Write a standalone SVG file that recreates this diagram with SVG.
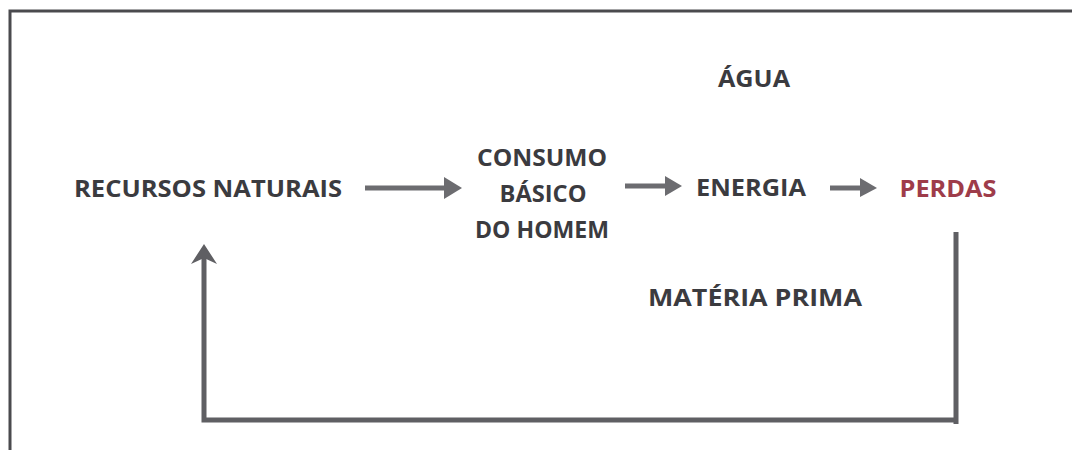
<svg xmlns="http://www.w3.org/2000/svg" width="1072" height="450" viewBox="0 0 1072 450">
<style>
.t{font-family:"Open Sans","Liberation Sans",sans-serif;font-weight:bold;font-size:23px;fill:#3b3b3f;text-anchor:middle;dominant-baseline:central}
.red{fill:#9e3c4a}
.ln{stroke:#5f5f63;stroke-width:5;fill:none}
.ar{stroke:#6c6c70;stroke-width:5;fill:none}
.hd{fill:#6c6c70}
</style>
<rect width="1072" height="450" fill="#ffffff"/>
<g id="frame">
<path d="M10,450 L10,11 L1072,11" stroke="#4a4a4e" stroke-width="3" fill="none"/>
</g>
<g id="recursos"><text class="t" x="208" y="188" textLength="268" lengthAdjust="spacingAndGlyphs">RECURSOS NATURAIS</text></g>
<g id="consumo">
<text class="t" x="542" y="157" textLength="130" lengthAdjust="spacingAndGlyphs">CONSUMO</text>
<text class="t" x="543" y="193" textLength="87" lengthAdjust="spacingAndGlyphs">BÁSICO</text>
<text class="t" x="542" y="229" textLength="134" lengthAdjust="spacingAndGlyphs">DO HOMEM</text>
</g>
<g id="energia"><text class="t" x="751" y="187" textLength="110" lengthAdjust="spacingAndGlyphs">ENERGIA</text></g>
<g id="perdas"><text class="t red" x="948" y="188" textLength="97" lengthAdjust="spacingAndGlyphs">PERDAS</text></g>
<g id="agua"><text class="t" x="754" y="78" textLength="72" lengthAdjust="spacingAndGlyphs">ÁGUA</text></g>
<g id="materia"><text class="t" x="755" y="297" textLength="214" lengthAdjust="spacingAndGlyphs">MATÉRIA PRIMA</text></g>
<g id="connectors">
<line class="ar" x1="365" y1="188" x2="446" y2="188"/>
<path class="hd" d="M462,188 L444,177 L444,199 Z"/>
<line class="ar" x1="625" y1="186" x2="667" y2="186"/>
<path class="hd" d="M682,186 L665,176 L665,196 Z"/>
<line class="ar" x1="830" y1="188" x2="862" y2="188"/>
<path class="hd" d="M877,188 L860,178 L860,197 Z"/>
<path class="ln" d="M956,232 L956,424"/>
<path class="ln" d="M956,420 L204,420 L204,252"/>
<path d="M204,244 L191,264 L204,258 L217,264 Z" fill="#5f5f63"/>
</g>
</svg>
